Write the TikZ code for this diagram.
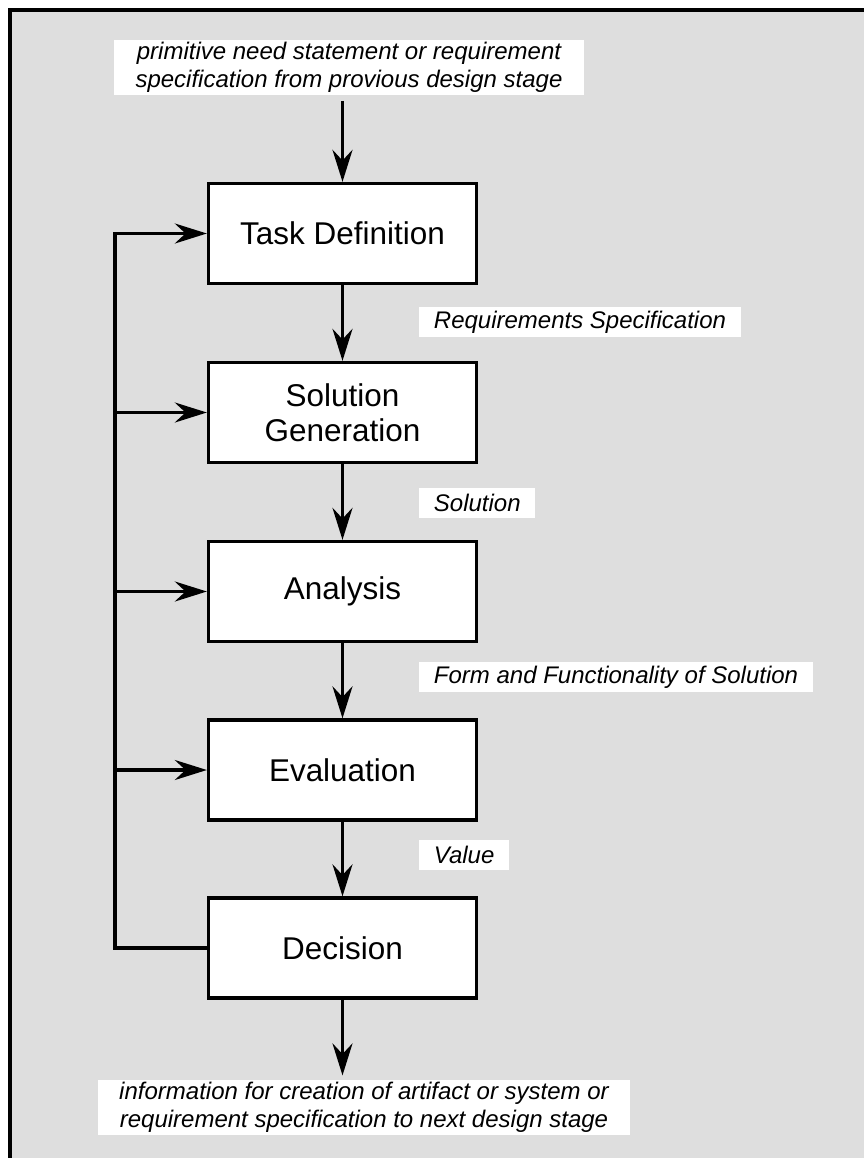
\documentclass[tikz,border=0pt]{standalone}
\usepackage{fontspec}
\setmainfont{Liberation Sans}
\usetikzlibrary{arrows.meta,positioning,calc}

\tikzset{
  stage/.style={draw, line width=2.5pt, fill=white, minimum width=201pt, minimum height=75pt,
    align=center, font=\fontsize{23.6}{26.5}\selectfont},
  tag/.style={fill=white, inner ysep=0pt, inner xsep=11pt, minimum height=22.5pt,
    font=\fontsize{18}{21}\selectfont\itshape},
  note/.style={fill=white, inner ysep=2pt, inner xsep=16pt, align=center,
    font=\fontsize{18}{21}\selectfont\itshape},
  flow/.style={line width=2.5pt, -{Stealth[length=24pt,width=15pt,inset=8pt]}}
}

\begin{document}
\begin{tikzpicture}[x=0.75pt,y=-0.75pt]
		  \clip (0,0) rectangle (864,1158);
		  \useasboundingbox (0,0) rectangle (864,1158);
		  % frame
		  \draw[fill=black!13, line width=3pt] (10,10) rectangle (880,1180);

		  % stages
		  \node[stage] (task) at (342.5,233.5) {Task Definition};
		  \node[stage] (gen) at (342.5,412.5) {Solution\\Generation};
		  \node[stage] (ana) at (342.5,591.5) {Analysis};
		  \node[stage] (eva) at (342.5,770) {Evaluation};
		  \node[stage] (dec) at (342.5,948) {Decision};

		  % input and output
		  \node[note] (need) at (349,67.5) {primitive need statement or requirement\\specification from provious design stage};
		  \node[note] (result) at (364,1107.5) {information for creation of artifact or system or\\requirement specification to next design stage};

		  % labels on the flow
		  \node[tag, anchor=west] (req) at (419,322) {Requirements Specification};
		  \node[tag, anchor=west] (sol) at (419,503) {Solution};
		  \node[tag, anchor=west] (form) at (419,677) {Form and Functionality of Solution};
		  \node[tag, anchor=west] (val) at (419,855) {Value};

		  \draw[flow, shorten <=4pt] (task.north |- need.south) -- (task.north);
		  \draw[flow] (task) -- (gen);
		  \draw[flow] (gen) -- (ana);
		  \draw[flow] (ana) -- (eva);
		  \draw[flow] (eva) -- (dec);
		  \draw[flow, shorten >=3pt] (dec) -- (dec.south |- result.north);

		  % feedback loop
		  \coordinate (loop) at (115,948);
		  \draw[flow] (dec.west) -- (loop) |- (task.west);
		  \foreach \n in {gen,ana,eva}
		    \draw[flow] (loop |- \n.west) -- (\n.west);
		\end{tikzpicture}
\end{document}
